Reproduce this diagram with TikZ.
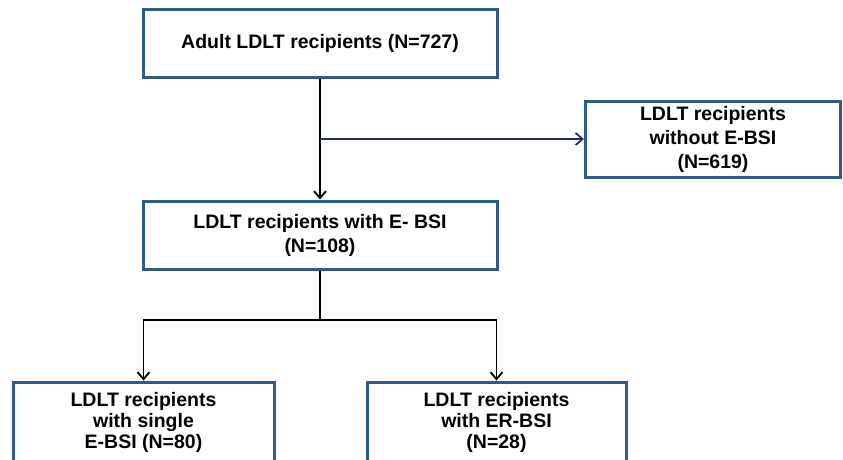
\documentclass[tikz,border=0pt]{standalone}
\usepackage{fontspec}
\setmainfont{Liberation Sans}
\usepackage{tikz}
\usetikzlibrary{positioning,arrows.meta}
\definecolor{boxblue}{RGB}{46,92,138}
\definecolor{arrownavy}{RGB}{30,42,110}

\begin{document}
\begin{tikzpicture}[x=1pt,y=-1pt,
    box/.style={draw=boxblue, line width=3pt, align=center, inner sep=0pt,
        font=\bfseries\fontsize{19.5}{24}\selectfont},
    flow/.style={line width=1.8pt, -{Straight Barb[length=7pt,width=12pt]}}]
    \useasboundingbox (0,0) rectangle (843,459);

    % Draw boxes
    \node[box, minimum width=354pt, minimum height=68pt] (adult) at (320,43)
        {Adult LDLT recipients (N=727)};
    \node[box, minimum width=255pt, minimum height=76pt] (excl) at (713,139)
        {LDLT recipients\\without E-BSI\\(N=619)};
    \node[box, minimum width=354pt, minimum height=68pt] (mid) at (320,235)
        {LDLT recipients with E- BSI\\(N=108)};
    \node[box, minimum width=261pt, minimum height=80pt,
        font=\bfseries\fontsize{19.5}{21}\selectfont] (single) at (143.5,422)
        {LDLT recipients\\with single\\E-BSI (N=80)};
    \node[box, minimum width=259pt, minimum height=80pt,
        font=\bfseries\fontsize{19.5}{21}\selectfont] (recur) at (496.5,422)
        {LDLT recipients\\with ER-BSI\\(N=28)};

    % Draw arrows
    \draw[flow] (adult) -- (mid);
    \coordinate (split) at (adult.south |- excl.west);
    \draw[flow, arrownavy] (split) -- (excl);
    \coordinate (fork) at (320,320);
    \draw[line width=1.8pt] (mid) -- (fork);
    \draw[flow] (fork) -| (single);
    \draw[flow] (fork) -| (recur);
\end{tikzpicture}
\end{document}
